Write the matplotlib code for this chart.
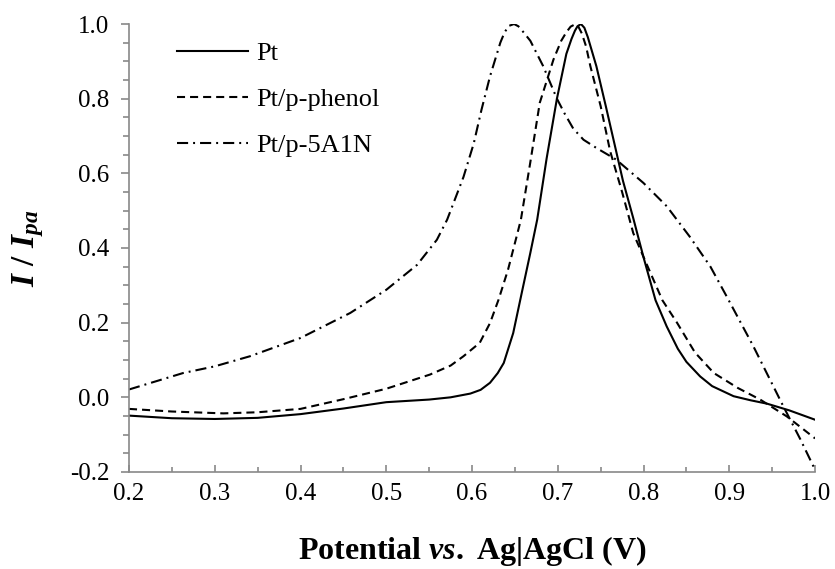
import numpy as np
import matplotlib
matplotlib.use("Agg")
import matplotlib.pyplot as plt
from matplotlib.ticker import MultipleLocator, FormatStrFormatter

# normalised voltammograms
x_pt = [0.20, 0.25, 0.30, 0.35, 0.40, 0.45, 0.50, 0.55, 0.575, 0.598, 0.61, 0.621,
        0.63, 0.637, 0.648, 0.658, 0.668, 0.676, 0.687, 0.699, 0.71, 0.716, 0.72,
        0.723, 0.727, 0.731, 0.735, 0.745, 0.756, 0.768, 0.776, 0.788, 0.80, 0.814,
        0.827, 0.84, 0.85, 0.866, 0.88, 0.905, 0.925, 0.944, 0.97, 1.00]
y_pt = [-0.049, -0.056, -0.058, -0.055, -0.045, -0.030, -0.013, -0.006, 0.0, 0.01,
        0.02, 0.039, 0.065, 0.092, 0.172, 0.28, 0.387, 0.476, 0.64, 0.80, 0.92, 0.96,
        0.982, 0.994, 1.0, 0.99, 0.965, 0.887, 0.78, 0.66, 0.58, 0.48, 0.375, 0.26,
        0.19, 0.13, 0.095, 0.056, 0.03, 0.003, -0.008, -0.017, -0.035, -0.06]

x_phenol = [0.20, 0.25, 0.31, 0.35, 0.40, 0.45, 0.50, 0.551, 0.575, 0.59, 0.609,
            0.621, 0.631, 0.642, 0.652, 0.657, 0.668, 0.679, 0.695, 0.704, 0.71, 0.715,
            0.72, 0.724, 0.728, 0.733, 0.738, 0.75, 0.761, 0.775, 0.788, 0.803, 0.822,
            0.839, 0.86, 0.882, 0.91, 0.936, 0.967, 1.00]
y_phenol = [-0.031, -0.038, -0.043, -0.040, -0.031, -0.005, 0.023, 0.061, 0.085, 0.11,
            0.146, 0.199, 0.262, 0.342, 0.431, 0.476, 0.63, 0.789, 0.905, 0.955, 0.978,
            0.993, 0.999, 0.993, 0.975, 0.94, 0.887, 0.78, 0.66, 0.55, 0.44, 0.36, 0.26,
            0.20, 0.12, 0.065, 0.025, -0.006, -0.051, -0.11]

x_5a1n = [0.20, 0.263, 0.30, 0.341, 0.40, 0.458, 0.50, 0.536, 0.559, 0.571, 0.58,
          0.59, 0.602, 0.611, 0.621, 0.633, 0.638, 0.643, 0.649, 0.654, 0.66, 0.668,
          0.683, 0.699, 0.708, 0.718, 0.73, 0.745, 0.768, 0.80, 0.827, 0.854, 0.878,
          0.897, 0.928, 0.963, 0.983, 1.00]
y_5a1n = [0.021, 0.065, 0.083, 0.11, 0.159, 0.226, 0.288, 0.355, 0.422, 0.476, 0.53,
          0.59, 0.68, 0.77, 0.86, 0.95, 0.978, 0.995, 1.0, 0.994, 0.978, 0.955,
          0.887, 0.80, 0.76, 0.72, 0.69, 0.668, 0.637, 0.574, 0.512, 0.43, 0.35,
          0.27, 0.137, -0.024, -0.113, -0.194]

plt.rcParams['font.family'] = 'Liberation Serif'
plt.rcParams['mathtext.fontset'] = 'custom'
plt.rcParams['mathtext.it'] = 'Liberation Serif:italic:bold'
plt.rcParams['mathtext.rm'] = 'Liberation Serif:bold'
plt.rcParams['mathtext.bf'] = 'Liberation Serif:bold'
plt.rcParams['lines.scale_dashes'] = False

fig = plt.figure(figsize=(8.35, 5.69), dpi=100)
ax = fig.add_axes([0.1545, 0.1705, 0.8216, 0.7873])

ax.plot(x_pt, y_pt, 'k', lw=1.5, label='Pt')
ax.plot(x_phenol, y_phenol, 'k', lw=1.5, dashes=(5.8, 3.6), label='Pt/p-phenol')
ax.plot(x_5a1n, y_5a1n, 'k', lw=1.5, dashes=(8, 3.6, 1.4, 3.6), label='Pt/p-5A1N')

ax.set_xlim(0.2, 1.0)
ax.set_ylim(-0.2, 1.0)
ax.xaxis.set_major_locator(MultipleLocator(0.1))
ax.xaxis.set_minor_locator(MultipleLocator(0.05))
ax.yaxis.set_major_locator(MultipleLocator(0.2))
ax.yaxis.set_minor_locator(MultipleLocator(0.05))
ax.xaxis.set_major_formatter(FormatStrFormatter('%.1f'))
ax.yaxis.set_major_formatter(FormatStrFormatter('%.1f'))

gray = '#898989'
for s in ['top', 'right']:
    ax.spines[s].set_visible(False)
for s in ['left', 'bottom']:
    ax.spines[s].set_color(gray)
    ax.spines[s].set_linewidth(1.2)

ax.tick_params(axis='y', which='major', direction='out', length=6, width=1.2,
               color=gray, labelsize=18, pad=8)
ax.tick_params(axis='y', which='minor', direction='out', length=4.3, width=1.2, color=gray)
ax.tick_params(axis='x', which='major', direction='in', length=5, width=1.2,
               color=gray, labelsize=18, pad=8)
ax.tick_params(axis='x', which='minor', direction='in', length=3.6, width=1.2, color=gray)

ax.set_xlabel(r'Potential $vs.$ Ag|AgCl (V)', fontsize=23, fontweight='bold', va='center')
ax.xaxis.set_label_coords(0.5, -0.176)
ax.set_ylabel(r'$I\ /\ I_{pa}$', fontsize=24, va='center', ha='center')
ax.yaxis.set_label_coords(-0.147, 0.5)

ax.legend(loc='upper left', bbox_to_anchor=(0.07, 0.96), frameon=False, fontsize=19,
          handlelength=2.7, handletextpad=0.3, labelspacing=0.85, borderpad=0,
          borderaxespad=0)

fig.savefig('out.png', dpi=100)
